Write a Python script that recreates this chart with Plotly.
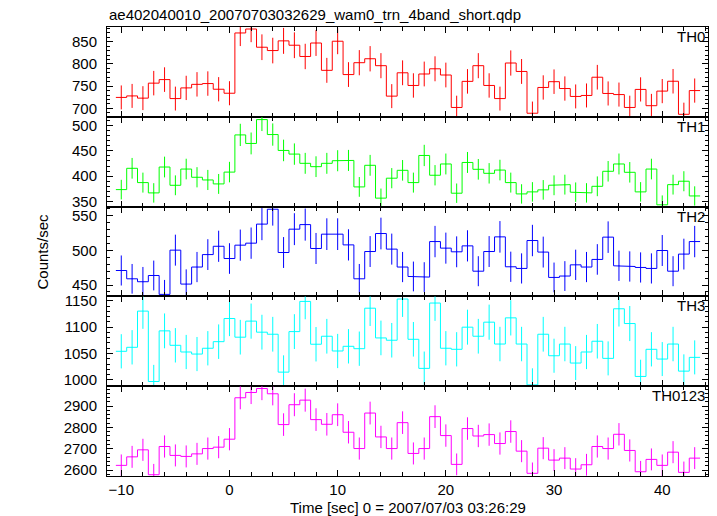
import numpy as np
import plotly.graph_objects as go
from plotly.subplots import make_subplots

# Bin centre times [s] relative to 2007/07/03 03:26:29 (1 s bins)
time = list(range(-10, 44))

th0 = [724.6, 728, 723, 756.7, 764.7, 722, 746, 754, 755.8, 743, 734, 869.6, 878.5, 837.5,
       830, 851.8, 842, 816.7, 847, 785.5, 851, 776, 802.7, 811.6, 796, 727.5, 780,
       751.5, 777.3, 789, 775, 702, 760.7, 796, 751.5, 722, 802, 783, 689, 747, 760,
       744.6, 726.8, 729, 770, 733.5, 731, 702, 742.6, 706, 738.8, 761, 686.6, 740]
th1 = [373.5, 415.5, 387.3, 367, 418, 382, 414, 397.8, 392.5, 384.7, 408, 481.3, 464.5, 511.5,
       482, 450.7, 443.5, 425.3, 418.7, 425.3, 430.4, 431, 378.8, 421.4, 356.7, 396, 411.5,
       387.3, 440.8, 401.8, 424, 366.4, 427, 413.5, 405.6, 412, 387.3, 365, 369, 373, 382,
       383.3, 368.4, 367, 380, 409.6, 424, 407.6, 369, 414, 343.5, 383.3, 390, 361]
th2 = [471, 459, 454.8, 463.8, 436.5, 500.4, 451.4, 476, 494, 506, 488.3, 507.6, 510.5, 538,
       559.5, 497, 530.7, 537.3, 502.8, 523.5, 523.5, 508, 459, 498.4, 524.4, 501.9, 476,
       462.4, 461.5, 512.8, 503.3, 498, 506.6, 470, 498.4, 519.6, 476.4, 474, 514.3, 497.6,
       461, 463, 479.2, 476, 487, 519.2, 477.8, 476.8, 475.4, 474, 499.9, 470, 494.7, 512.8]
th3 = [1054.2, 1061.8, 1130.5, 996.9, 1093, 1065.6, 1052.9, 1049, 1060, 1072.5, 1116.4, 1081,
       1111.5, 1090.5, 1086.6, 1014.7, 1091.6, 1148.9, 1067.6, 1082.8, 1054.8, 1063.7, 1059.2,
       1136, 1079.6, 1075.2, 1153.4, 1077, 1021.8, 1145.8, 1060, 1058, 1100, 1082.8, 1109.5,
       1068, 1117.7, 1068, 990.5, 1086.6, 1045.8, 1068, 1031.9, 1052.9, 1073.3, 1040.8, 1134.9,
       1106.9, 1006.5, 1058, 1039.5, 1068, 1016.6, 1042.7]
th0123 = [2622, 2662, 2695, 2578, 2710.7, 2668.7, 2664, 2676, 2701, 2707.5, 2745, 2939.7, 2964.5,
          2983, 2958.4, 2813.6, 2907, 2928.5, 2837, 2815, 2860, 2777.6, 2701, 2867.8, 2755.6,
          2701, 2822.7, 2678, 2701, 2851, 2762, 2626.6, 2795, 2760, 2766.6, 2724.6, 2781,
          2688.8, 2584.6, 2702.8, 2646.7, 2656, 2604.7, 2624.8, 2710.7, 2701, 2768, 2692, 2592,
          2650, 2622, 2684, 2589, 2656]

band_names = ["TH0", "TH1", "TH2", "TH3", "TH0123"]
series = [th0, th1, th2, th3, th0123]
colors = ["#ff0000", "#00ff00", "#0000ff", "#00ffff", "#ff00ff"]
y_ranges = [[681, 883], [340, 517], [433.6, 563.3], [988, 1158.4], [2572, 2994]]
y_dtick = [50, 50, 50, 50, 100]
y_minor = [10, 10, 10, 10, 20]

FONT = "Liberation Sans, Arial, Helvetica, sans-serif"
FS = 15

fig = make_subplots(rows=5, cols=1, shared_xaxes=True, vertical_spacing=0)

for i, (name, vals, col) in enumerate(zip(band_names, series, colors)):
    row = i + 1
    xs, ys = [], []
    for t, v in zip(time, vals):
        xs += [t - 0.5, t + 0.5]
        ys += [v, v]
    fig.add_trace(go.Scatter(x=xs, y=ys, mode="lines",
                             line=dict(color=col, width=1), showlegend=False,
                             hoverinfo="skip"), row=row, col=1)
    # Poisson errors for 1 s bins
    err = np.sqrt(np.array(vals))
    fig.add_trace(go.Scatter(x=time, y=vals, mode="markers",
                             marker=dict(size=1, color=col),
                             error_y=dict(type="data", array=err, width=0,
                                          thickness=1, color=col),
                             showlegend=False), row=row, col=1)
    fig.update_yaxes(range=y_ranges[i], dtick=y_dtick[i], tick0=0, automargin=False,
                     ticks="inside", ticklen=6, tickcolor="black", tickwidth=1,
                     ticklabelstandoff=6,
                     minor=dict(dtick=y_minor[i], ticks="inside", ticklen=3,
                                tickcolor="black", tickwidth=1),
                     showline=True, linecolor="black", linewidth=1, mirror="allticks",
                     showgrid=False, zeroline=False,
                     tickfont=dict(family=FONT, size=FS, color="black"),
                     row=row, col=1)
    fig.add_annotation(text=name, xref="x domain" if row == 1 else f"x{row} domain",
                       yref="y domain" if row == 1 else f"y{row} domain",
                       x=1, y=1, xanchor="right", yanchor="top", xshift=-1, yshift=1,
                       showarrow=False, font=dict(family=FONT, size=FS, color="black"))

fig.update_xaxes(range=[-11.32, 44.23], dtick=10, tick0=0, automargin=False,
                 ticks="inside", ticklen=6, tickcolor="black", tickwidth=1,
                 minor=dict(dtick=2, ticks="inside", ticklen=4, tickcolor="black", tickwidth=1),
                 showline=True, linecolor="black", linewidth=1, mirror="allticks",
                 showgrid=False, zeroline=False,
                 tickfont=dict(family=FONT, size=FS, color="black"))

fig.add_annotation(text="ae402040010_20070703032629_wam0_trn_4band_short.qdp",
                   xref="paper", yref="paper", x=0, y=1, xanchor="left", yanchor="bottom",
                   yshift=2, showarrow=False, font=dict(family=FONT, size=FS, color="black"))
fig.add_annotation(text="Time [sec] 0 = 2007/07/03 03:26:29",
                   xref="paper", yref="paper", x=0.5, y=0, xanchor="center", yanchor="middle",
                   yshift=-31, showarrow=False, font=dict(family=FONT, size=FS, color="black"))
fig.add_annotation(text="Counts/sec", textangle=-90,
                   xref="paper", yref="paper", x=0, y=0.5, xanchor="center", yanchor="middle",
                   xshift=-65, showarrow=False, font=dict(family=FONT, size=FS, color="black"))

fig.update_layout(width=717, height=516, margin=dict(l=107, r=9, t=27, b=40),
                  paper_bgcolor="white", plot_bgcolor="white", showlegend=False)

fig.write_html("out.html", config={"displayModeBar": False},
               post_script="document.body.style.margin='0';")
